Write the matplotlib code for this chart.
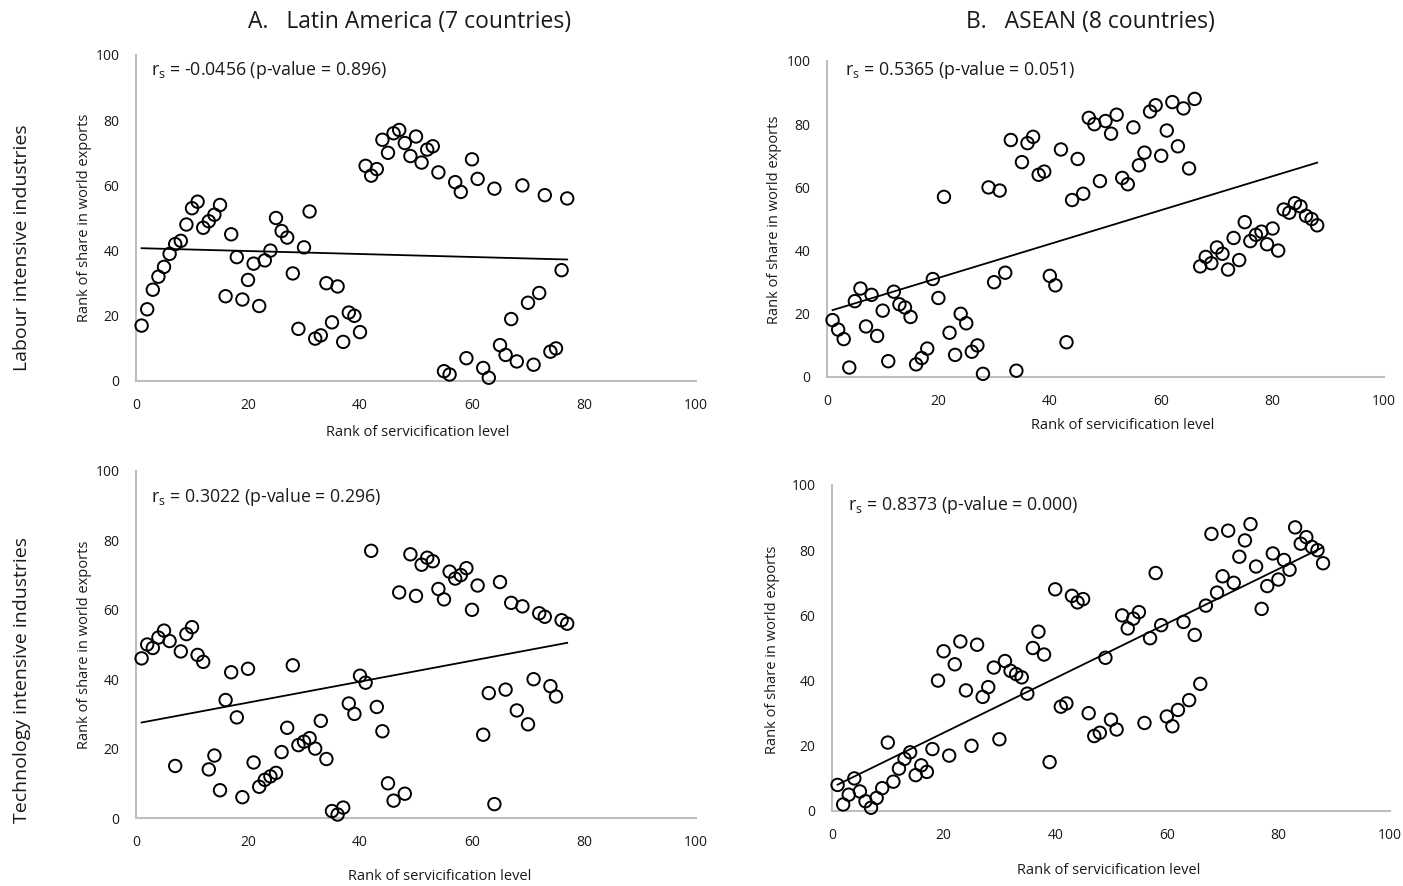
import numpy as np
import matplotlib
matplotlib.use("Agg")
import matplotlib.pyplot as plt
from matplotlib import font_manager

# ---------------- data ----------------
la_labour_y = [17, 22, 28, 32, 35, 39, 42, 43, 48, 53, 55, 47, 49, 51, 54, 26, 45, 38, 25, 31,
               36, 23, 37, 40, 50, 46, 44, 33, 16, 41, 52, 13, 14, 30, 18, 29, 12, 21, 20, 15,
               66, 63, 65, 74, 70, 76, 77, 73, 69, 75, 67, 71, 72, 64, 3, 2, 61, 58, 7, 68,
               62, 4, 1, 59, 11, 8, 19, 6, 60, 24, 5, 27, 57, 9, 10, 34, 56]
asean_labour_y = [18, 15, 12, 3, 24, 28, 16, 26, 13, 21, 5, 27, 23, 22, 19, 4, 6, 9, 31, 25,
                  57, 14, 7, 20, 17, 8, 10, 1, 60, 30, 59, 33, 75, 2, 68, 74, 76, 64, 65, 32,
                  29, 72, 11, 56, 69, 58, 82, 80, 62, 81, 77, 83, 63, 61, 79, 67, 71, 84, 86, 70,
                  78, 87, 73, 85, 66, 88, 35, 38, 36, 41, 39, 34, 44, 37, 49, 43, 45, 46, 42, 47,
                  40, 53, 52, 55, 54, 51, 50, 48]
la_tech_y = [46, 50, 49, 52, 54, 51, 15, 48, 53, 55, 47, 45, 14, 18, 8, 34, 42, 29, 6, 43,
             16, 9, 11, 12, 13, 19, 26, 44, 21, 22, 23, 20, 28, 17, 2, 1, 3, 33, 30, 41,
             39, 77, 32, 25, 10, 5, 65, 7, 76, 64, 73, 75, 74, 66, 63, 71, 69, 70, 72, 60,
             67, 24, 36, 4, 68, 37, 62, 31, 61, 27, 40, 59, 58, 38, 35, 57, 56]
asean_tech_y = [8, 2, 5, 10, 6, 3, 1, 4, 7, 21, 9, 13, 16, 18, 11, 14, 12, 19, 40, 49,
                17, 45, 52, 37, 20, 51, 35, 38, 44, 22, 46, 43, 42, 41, 36, 50, 55, 48, 15, 68,
                32, 33, 66, 64, 65, 30, 23, 24, 47, 28, 25, 60, 56, 59, 61, 27, 53, 73, 57, 29,
                26, 31, 58, 34, 54, 39, 63, 85, 67, 72, 86, 70, 78, 83, 88, 75, 62, 69, 79, 71,
                77, 74, 87, 82, 84, 81, 80, 76]

panel_titles = ["A.   Latin America (7 countries)", "B.   ASEAN (8 countries)"]
row_titles = ["Labour intensive industries", "Technology intensive industries"]
annotations = ["-0.0456 (p-value = 0.896)", "0.5365 (p-value = 0.051)",
               "0.3022 (p-value = 0.296)", "0.8373 (p-value = 0.000)"]
xlabel_text = "Rank of servicification level"
ylabel_text = "Rank of share in world exports"
tick_values = [0, 20, 40, 60, 80, 100]

# ---------------- fonts ----------------
avail = {f.name for f in font_manager.fontManager.ttflist}
family = "DejaVu Sans"
for cand in ["Open Sans", "Noto Sans", "Lato"]:
    if cand in avail:
        family = cand
        break
plt.rcParams["font.family"] = [family, "DejaVu Sans"]
plt.rcParams["mathtext.fontset"] = "custom"
plt.rcParams["mathtext.rm"] = family

W, H = 1403, 886
fig = plt.figure(figsize=(W / 100, H / 100), dpi=100)
fig.patch.set_facecolor("white")


def px_axes(left, right, bottom, top):
    return fig.add_axes([left / W, 1 - bottom / H, (right - left) / W, (bottom - top) / H])


def fx(x):
    return x / W


def fy(y):
    return 1 - y / H


# axes pixel boxes: left, right(x=100), bottom(y=0), top(y=100)
boxes = [(136, 696, 381, 55), (827, 1384, 377, 61), (136, 696, 818, 471), (832, 1390, 811, 485)]
datasets = [la_labour_y, asean_labour_y, la_tech_y, asean_tech_y]
# label positions in pixels
xlabel_pos = [(418, 433), (1123, 426), (440, 876), (1109, 870)]
ylabel_pos = [(84, 218), (775, 220), (84, 645), (773, 650)]
annot_pos = [(151, 70), (845, 70), (151, 497), (848, 505)]

spine_col = "#BFBFBF"
text_col = "#1a1a1a"

for i, (box, ydata) in enumerate(zip(boxes, datasets)):
    ax = px_axes(*box)
    y = np.array(ydata, dtype=float)
    x = np.arange(1, len(y) + 1, dtype=float)
    ax.scatter(x, y, s=80, facecolors="none", edgecolors="black", linewidths=1.4, zorder=3,
               clip_on=False)
    slope, intercept = np.polyfit(x, y, 1)
    xl = np.array([x.min(), x.max()])
    ax.plot(xl, slope * xl + intercept, color="black", lw=1.3, zorder=2)
    ax.set_xlim(0, 100)
    ax.set_ylim(0, 100)
    ax.set_xticks(tick_values)
    ax.set_yticks(tick_values)
    for s in ["top", "right"]:
        ax.spines[s].set_visible(False)
    for s in ["left", "bottom"]:
        ax.spines[s].set_color(spine_col)
        ax.spines[s].set_linewidth(1.5)
    ax.tick_params(length=0, labelsize=10, colors=text_col)
    ax.tick_params(axis="x", pad=12)
    ax.tick_params(axis="y", pad=12)
    ax.set_facecolor("none")
    fig.text(fx(xlabel_pos[i][0]), fy(xlabel_pos[i][1]), xlabel_text, ha="center", va="center",
             fontsize=10.5, color=text_col)
    fig.text(fx(ylabel_pos[i][0]), fy(ylabel_pos[i][1]), ylabel_text, ha="center", va="center",
             rotation=90, fontsize=10.5, color=text_col)
    fig.text(fx(annot_pos[i][0]), fy(annot_pos[i][1]),
             r"r$_{\mathregular{s}}$ = " + annotations[i], ha="left", va="center",
             fontsize=12.8, color=text_col)

fig.text(fx(410), fy(22), panel_titles[0], ha="center", va="center", fontsize=16.5, color=text_col)
fig.text(fx(1090), fy(22), panel_titles[1], ha="center", va="center", fontsize=16.5, color=text_col)
fig.text(fx(22), fy(248), row_titles[0], ha="center", va="center", rotation=90, fontsize=14,
         color=text_col)
fig.text(fx(22), fy(680), row_titles[1], ha="center", va="center", rotation=90, fontsize=14,
         color=text_col)

fig.savefig("out.png", dpi=100, facecolor="white")
